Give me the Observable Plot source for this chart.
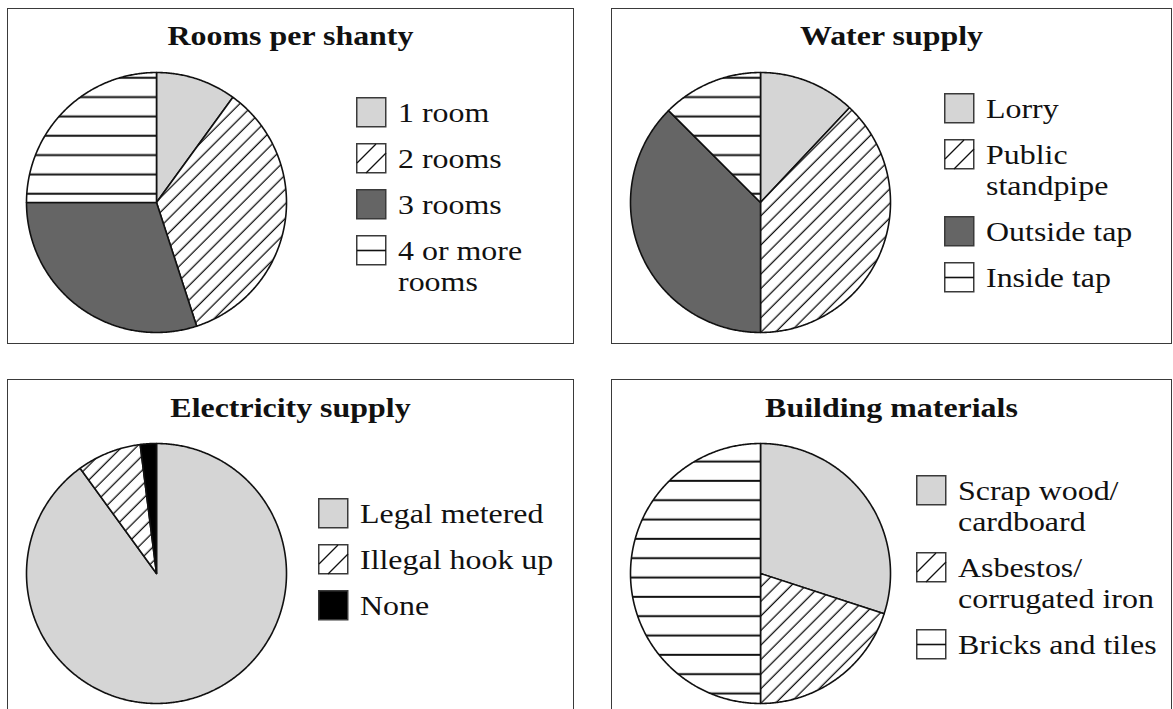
<!DOCTYPE html>
<html><head><meta charset="utf-8">
<script src="https://cdn.jsdelivr.net/npm/d3@7"></script>
<script src="https://cdn.jsdelivr.net/npm/@observablehq/plot@0.6"></script>
<style>
html,body{margin:0;padding:0;background:#fff;}
#root{position:relative;width:1173px;height:709px;overflow:hidden;font-family:"Liberation Serif","Times New Roman",serif;color:#111;}
.panel{position:absolute;}
.frame{position:absolute;left:0;top:0;right:0;bottom:0;border:1.5px solid #3a3a3a;box-sizing:border-box;pointer-events:none;}
.title{position:absolute;left:0;right:0;text-align:center;font-weight:bold;font-size:28px;line-height:31px;transform:scaleX(1.14);transform-origin:center;white-space:nowrap;}
.legend{position:absolute;}
.item{position:relative;margin-bottom:15px;padding-left:42px;min-height:31px;}
.item svg{position:absolute;left:0;top:0;}
.item .lbl{display:block;font-size:28px;line-height:31px;transform:scaleX(1.14);transform-origin:left;white-space:nowrap;}
.pie{position:absolute;left:0;top:0;}
</style>
</head><body>
<div id="root"></div>
<script>
// ---- data ----
const roomsCategories = ["1 room", "2 rooms", "3 rooms", "4 or more\nrooms"];
const roomsValues = [10, 35, 30, 25];
const waterCategories = ["Lorry", "Public\nstandpipe", "Outside tap", "Inside tap"];
const waterValues = [12, 38, 37.5, 12.5];
const electricityCategories = ["Legal metered", "Illegal hook up", "None"];
const electricityValues = [90, 8, 2];
const buildingCategories = ["Scrap wood/\ncardboard", "Asbestos/\ncorrugated iron", "Bricks and tiles"];
const buildingValues = [30, 20, 50];
const titles = ["Rooms per shanty", "Water supply", "Electricity supply", "Building materials"];

// ---- styles ----
const LIGHT = "#d5d5d5", DARK = "#656565";
const fillStyles = {
  light: {fill: LIGHT},
  diag: {fill: "url(#diag)"},
  dark: {fill: DARK},
  horizA: {fill: "url(#horizA)"},
  horizB: {fill: "url(#horizB)"},
  black: {fill: "#000"}
};

const panels = [
  {title: titles[0], cats: roomsCategories, vals: roomsValues, styles: ["light","diag","dark","horizA"],
   left: 7, top: 8, width: 567, height: 336, legend: {x: 349, y: 89}, titleTop: 12},
  {title: titles[1], cats: waterCategories, vals: waterValues, styles: ["light","diag","dark","horizA"],
   left: 611, top: 8, width: 561, height: 336, legend: {x: 333, y: 85}, titleTop: 12},
  {title: titles[2], cats: electricityCategories, vals: electricityValues, styles: ["light","diag","black"],
   left: 7, top: 379, width: 567, height: 345, legend: {x: 311, y: 119}, titleTop: 13},
  {title: titles[3], cats: buildingCategories, vals: buildingValues, styles: ["light","diag","horizB"],
   left: 611, top: 379, width: 561, height: 345, legend: {x: 305, y: 96}, titleTop: 13}
];

const root = document.getElementById("root");

// pattern defs
const defs = d3.select(root).append("svg").attr("width", 0).attr("height", 0)
  .style("position", "absolute").append("defs");
const pd = defs.append("pattern").attr("id", "diag").attr("patternUnits", "userSpaceOnUse")
  .attr("width", 10.3).attr("height", 10.3).attr("patternTransform", "rotate(45)");
pd.append("rect").attr("width", 10.3).attr("height", 10.3).attr("fill", "#fff");
pd.append("line").attr("x1", 5).attr("x2", 5).attr("y1", -1).attr("y2", 11.3).attr("stroke", "#111").attr("stroke-width", 1.3);
function horiz(id, off) {
  const p = defs.append("pattern").attr("id", id).attr("patternUnits", "userSpaceOnUse")
    .attr("width", 20).attr("height", 19.33);
  p.append("rect").attr("width", 20).attr("height", 19.33).attr("fill", "#fff");
  p.append("line").attr("x1", -1).attr("x2", 21).attr("y1", off).attr("y2", off).attr("stroke", "#111").attr("stroke-width", 2);
}
horiz("horizA", 11.3);
horiz("horizB", 4.7);

function pieRows(labels, values) {
  const total = d3.sum(values);
  let acc = 0;
  const rows = [];
  labels.forEach((label, i) => {
    const a0 = acc / total * 2 * Math.PI;
    acc += values[i];
    const a1 = acc / total * 2 * Math.PI;
    rows.push({label, x: 0, y: 0});
    const n = Math.max(2, Math.ceil((a1 - a0) / (Math.PI / 360)));
    for (let k = 0; k <= n; k++) {
      const a = a0 + (a1 - a0) * k / n;
      rows.push({label, x: Math.sin(a), y: Math.cos(a)});
    }
    rows.push({label, x: 0, y: 0});
  });
  return rows;
}

function swatch(style) {
  const s = d3.create("svg").attr("width", 31).attr("height", 31);
  const f = style === "light" ? LIGHT : style === "dark" ? DARK : style === "black" ? "#000" : "#fff";
  s.append("rect").attr("x", 0.75).attr("y", 0.75).attr("width", 29).attr("height", 29)
    .attr("fill", f).attr("stroke", "#3a3a3a").attr("stroke-width", 1.5);
  if (style === "diag") {
    s.append("line").attr("x1", 1).attr("y1", 20).attr("x2", 20).attr("y2", 1).attr("stroke", "#111").attr("stroke-width", 1.3);
    s.append("line").attr("x1", 10).attr("y1", 30).attr("x2", 30).attr("y2", 10).attr("stroke", "#111").attr("stroke-width", 1.3);
  }
  if (style === "horizA" || style === "horizB") {
    s.append("line").attr("x1", 1).attr("y1", 15.5).attr("x2", 30).attr("y2", 15.5).attr("stroke", "#111").attr("stroke-width", 1.6);
  }
  return s.node();
}

for (const p of panels) {
  const div = d3.select(root).append("div").attr("class", "panel")
    .style("left", p.left + "px").style("top", p.top + "px")
    .style("width", p.width + "px").style("height", p.height + "px");

  const chart = Plot.plot({
    width: 300, height: 336,
    marginLeft: 19, marginRight: 21, marginTop: 64, marginBottom: 12,
    x: {domain: [-1, 1], axis: null},
    y: {domain: [-1, 1], axis: null},
    color: {domain: p.cats, range: p.styles.map(s => fillStyles[s].fill)},
    style: {background: "transparent", overflow: "visible"},
    marks: [
      Plot.line(pieRows(p.cats, p.vals), {
        x: "x", y: "y", z: "label", fill: "label",
        stroke: "#111", strokeWidth: 1.6, strokeLinejoin: "round"
      })
    ]
  });
  chart.classList.add("pie");
  div.node().appendChild(chart);

  div.append("div").attr("class", "title").style("top", p.titleTop + "px").text(p.title);

  const leg = div.append("div").attr("class", "legend")
    .style("left", p.legend.x + "px").style("top", p.legend.y + "px");
  p.cats.forEach((c, i) => {
    const it = leg.append("div").attr("class", "item");
    it.node().appendChild(swatch(p.styles[i]));
    c.split("\n").forEach(line => it.append("span").attr("class", "lbl").text(line));
  });

  div.append("div").attr("class", "frame");
}
</script>
</body></html>
